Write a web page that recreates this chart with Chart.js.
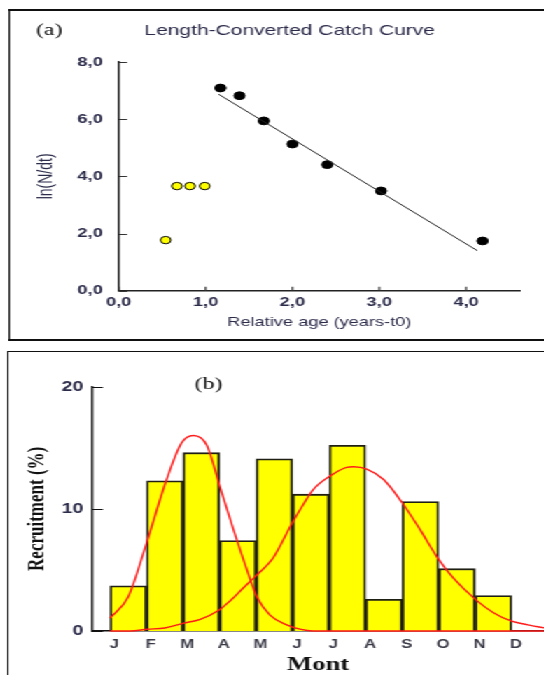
<!DOCTYPE html>
<html>
<head>
<meta charset="utf-8">
<script src="https://cdn.jsdelivr.net/npm/chart.js@4.4.1/dist/chart.umd.min.js"></script>
<style>
  html, body { margin: 0; padding: 0; background: #fff; overflow: hidden; }
  /* the whole figure is stretched sideways like the scanned original */
  #page { position: relative; width: 389px; height: 675px; transform: scaleX(1.4); transform-origin: 0 0; }
  .box { position: absolute; box-sizing: border-box; border-style: solid; border-color: #111; }
  #boxA { left: 5.7px; top: 9px; width: 420px; height: 332px; border-width: 2px 0 2px 1.5px; }
  #boxB { left: 5.4px; top: 351px; width: 420px; height: 400px; border-width: 1.5px 0 0 1.5px; }
  canvas { position: absolute; left: 0; }
  #chartA { top: 0; }
  #chartB { top: 345px; }
</style>
</head>
<body>
<div id="page">
  <div class="box" id="boxA"></div>
  <div class="box" id="boxB"></div>
  <canvas id="chartA" width="389" height="340"></canvas>
  <canvas id="chartB" width="389" height="330"></canvas>
</div>
<script>
// (a) catch curve
const usedAge = [1.17, 1.39, 1.67, 2.0, 2.40, 3.02, 4.19];
const usedLn = [7.09, 6.82, 5.94, 5.13, 4.41, 3.49, 1.74];
const skippedAge = [0.54, 0.67, 0.82, 0.99];
const skippedLn = [1.77, 3.66, 3.66, 3.66];
const fitAge = [1.15, 4.13];
const fitLn = [6.87, 1.40];
const ageTicks = [0, 1, 2, 3, 4];
const lnTicks = [0, 2, 4, 6, 8];

// (b) recruitment pattern
const months = ["J", "F", "M", "A", "M", "J", "J", "A", "S", "O", "N", "D"];
const recruitment = [3.7, 12.3, 14.6, 7.4, 14.1, 11.2, 15.2, 2.6, 10.6, 5.1, 2.9];
const curve1X = [0, 0.5, 1.0, 1.55, 1.96, 2.28, 2.65, 3.0, 3.38, 3.75, 4.02, 4.38, 4.84, 5.2, 5.56, 11.9];
const curve1Y = [1.05, 2.8, 7.2, 12.4, 15.4, 16.0, 15.2, 11.9, 8.3, 5.0, 2.8, 1.3, 0.5, 0.15, 0, 0];
const curve2X = [0, 0.55, 1.02, 1.5, 2.0, 2.47, 2.98, 3.3, 3.64, 3.99, 4.47, 4.98, 5.3, 5.57, 6.03, 6.48, 6.67, 7.03, 7.49, 8.0, 8.49, 8.98, 9.41, 10.02, 10.5, 11.0, 11.45, 11.9];
const curve2Y = [0, 0, 0.14, 0.25, 0.63, 0.96, 1.7, 2.5, 3.5, 4.5, 6.0, 8.8, 10.4, 11.6, 12.7, 13.4, 13.45, 13.25, 12.4, 10.5, 8.3, 5.95, 4.3, 2.55, 1.5, 0.8, 0.5, 0.25];
const recruitTicks = [0, 10, 20];

const pts = (xs, ys) => xs.map((x, i) => ({ x: x, y: ys[i] }));
const SANS = "'Liberation Sans', Arial, sans-serif";
const SERIF = "'Liberation Serif', 'Times New Roman', serif";

// ticks drawn inside the plot, like the original
const inwardTicks = {
  id: "inwardTicks",
  afterDraw(chart, args, opts) {
    const { ctx, chartArea, scales } = chart;
    ctx.save();
    ctx.strokeStyle = opts.color;
    ctx.lineWidth = 1.2;
    ctx.beginPath();
    scales.y.ticks.forEach(t => {
      const y = Math.round(scales.y.getPixelForValue(t.value)) + 0.5;
      ctx.moveTo(chartArea.left, y);
      ctx.lineTo(chartArea.left + opts.yLen, y);
    });
    if (opts.xLen) {
      scales.x.ticks.forEach(t => {
        const x = scales.x.getPixelForValue(t.value);
        ctx.moveTo(x, chartArea.bottom);
        ctx.lineTo(x, chartArea.bottom - opts.xLen);
      });
    }
    ctx.stroke();
    ctx.restore();
  }
};

const textLabels = {
  id: "textLabels",
  afterDraw(chart, args, opts) {
    const ctx = chart.ctx;
    ctx.save();
    ctx.textBaseline = "middle";
    opts.items.forEach(t => {
      ctx.font = t.font;
      ctx.fillStyle = t.color;
      ctx.textAlign = t.align;
      ctx.fillText(t.text, t.x, t.y);
    });
    ctx.restore();
  }
};

const comma = v => v.toFixed(1).replace(".", ",");

// Panel (a)
new Chart(document.getElementById("chartA"), {
  type: "scatter",
  data: {
    datasets: [
      {
        data: pts(fitAge, fitLn),
        showLine: true,
        borderColor: "#222",
        borderWidth: 1,
        pointRadius: 0
      },
      {
        data: pts(usedAge, usedLn),
        backgroundColor: "#000",
        borderColor: "#000",
        borderWidth: 1,
        pointRadius: 3.9
      },
      {
        data: pts(skippedAge, skippedLn),
        backgroundColor: "#ffff00",
        borderColor: "#000",
        borderWidth: 1,
        pointRadius: 3.7
      }
    ]
  },
  options: {
    responsive: false,
    animation: false,
    devicePixelRatio: 1,
    layout: { padding: { left: 0, top: 62, right: 17.6, bottom: 0 } },
    plugins: {
      legend: { display: false },
      tooltip: { enabled: false },
      inwardTicks: { color: "#333", yLen: 6, xLen: 4 },
      textLabels: {
        items: [
          { text: "(a)", x: 25.7, y: 31, font: "17px " + SERIF, color: "#111", align: "left" },
          { text: "Length-Converted Catch Curve", x: 206.9, y: 31, font: "15px " + SANS, color: "#2b2b4a", align: "center" }
        ]
      }
    },
    scales: {
      x: {
        type: "linear",
        min: 0,
        max: 4.62,
        afterFit: s => { s.height = 49.3; },
        afterBuildTicks: s => { s.ticks = ageTicks.map(v => ({ value: v })); },
        grid: { display: false, drawTicks: false },
        border: { display: true, color: "#222", width: 1.5 },
        ticks: { padding: 3.8, color: "#2b2b4a", font: { family: SANS, size: 13, weight: "bold" }, callback: comma },
        title: { display: true, text: "Relative age (years-t0)", color: "#2b2b4a", font: { family: SANS, size: 13 }, padding: { top: 0, bottom: 10.2 } }
      },
      y: {
        min: 0,
        max: 8,
        afterFit: s => { s.width = 84.8; },
        afterBuildTicks: s => { s.ticks = lnTicks.map(v => ({ value: v })); },
        grid: { display: false, drawTicks: false },
        border: { display: true, color: "#222", width: 1.5 },
        ticks: { padding: 11.4, color: "#2b2b4a", font: { family: SANS, size: 13, weight: "bold" }, callback: comma },
        title: { display: true, text: "ln(N/dt)", color: "#2b2b4a", font: { family: SANS, size: 14 }, padding: { top: 25.2, bottom: 0 } }
      }
    }
  },
  plugins: [inwardTicks, textLabels]
});

// Panel (b)
new Chart(document.getElementById("chartB"), {
  type: "bar",
  data: {
    datasets: [
      {
        type: "line",
        data: pts(curve1X, curve1Y),
        borderColor: "#ff1a1a",
        borderWidth: 1.4,
        pointRadius: 0,
        cubicInterpolationMode: "monotone",
        clip: false,
        order: 1
      },
      {
        type: "line",
        data: pts(curve2X, curve2Y),
        borderColor: "#ff1a1a",
        borderWidth: 1.4,
        pointRadius: 0,
        cubicInterpolationMode: "monotone",
        clip: false,
        order: 1
      },
      {
        type: "bar",
        data: recruitment.map((v, i) => ({ x: i + 0.5, y: v })),
        backgroundColor: "#ffff00",
        borderColor: "#1f1f14",
        borderWidth: 1.8,
        barPercentage: 1,
        categoryPercentage: 1,
        order: 2
      }
    ]
  },
  options: {
    responsive: false,
    animation: false,
    devicePixelRatio: 1,
    layout: { padding: { left: 0, top: 41.7, right: 0, bottom: 0 } },
    plugins: {
      legend: { display: false },
      tooltip: { enabled: false },
      inwardTicks: { color: "#111", yLen: 8, xLen: 0 },
      textLabels: {
        items: [
          { text: "(b)", x: 149, y: 40, font: "17px " + SERIF, color: "#111", align: "center" }
        ]
      }
    },
    scales: {
      x: {
        type: "linear",
        offset: false,
        min: -0.5,
        max: 11.9,
        afterFit: s => { s.height = 44; },
        afterBuildTicks: s => { s.ticks = months.map((m, i) => ({ value: i + 0.12 })); },
        grid: { display: false, drawTicks: false },
        border: { display: true, color: "#111", width: 1.5 },
        ticks: { padding: 6.8, color: "#3a3a48", font: { family: SANS, size: 12, weight: "bold" }, callback: (v, i) => months[i] },
        title: { display: true, text: "Mont", color: "#111", font: { family: SERIF, size: 19, weight: "bold", lineHeight: 1 }, padding: { top: 0, bottom: 0.5 } }
      },
      y: {
        min: 0,
        max: 20,
        afterFit: s => { s.width = 65.5; },
        afterBuildTicks: s => { s.ticks = recruitTicks.map(v => ({ value: v })); },
        grid: { display: false, drawTicks: false },
        border: { display: true, color: "#111", width: 1.5 },
        ticks: { padding: 6, color: "#2b2b4a", font: { family: SANS, size: 14, weight: "bold" } },
        title: { display: true, text: "Recruitment (%)", color: "#111", font: { family: SERIF, size: 17, weight: "bold" }, padding: { top: 16.8, bottom: 0 } }
      }
    }
  },
  plugins: [inwardTicks, textLabels]
});
</script>
</body>
</html>
